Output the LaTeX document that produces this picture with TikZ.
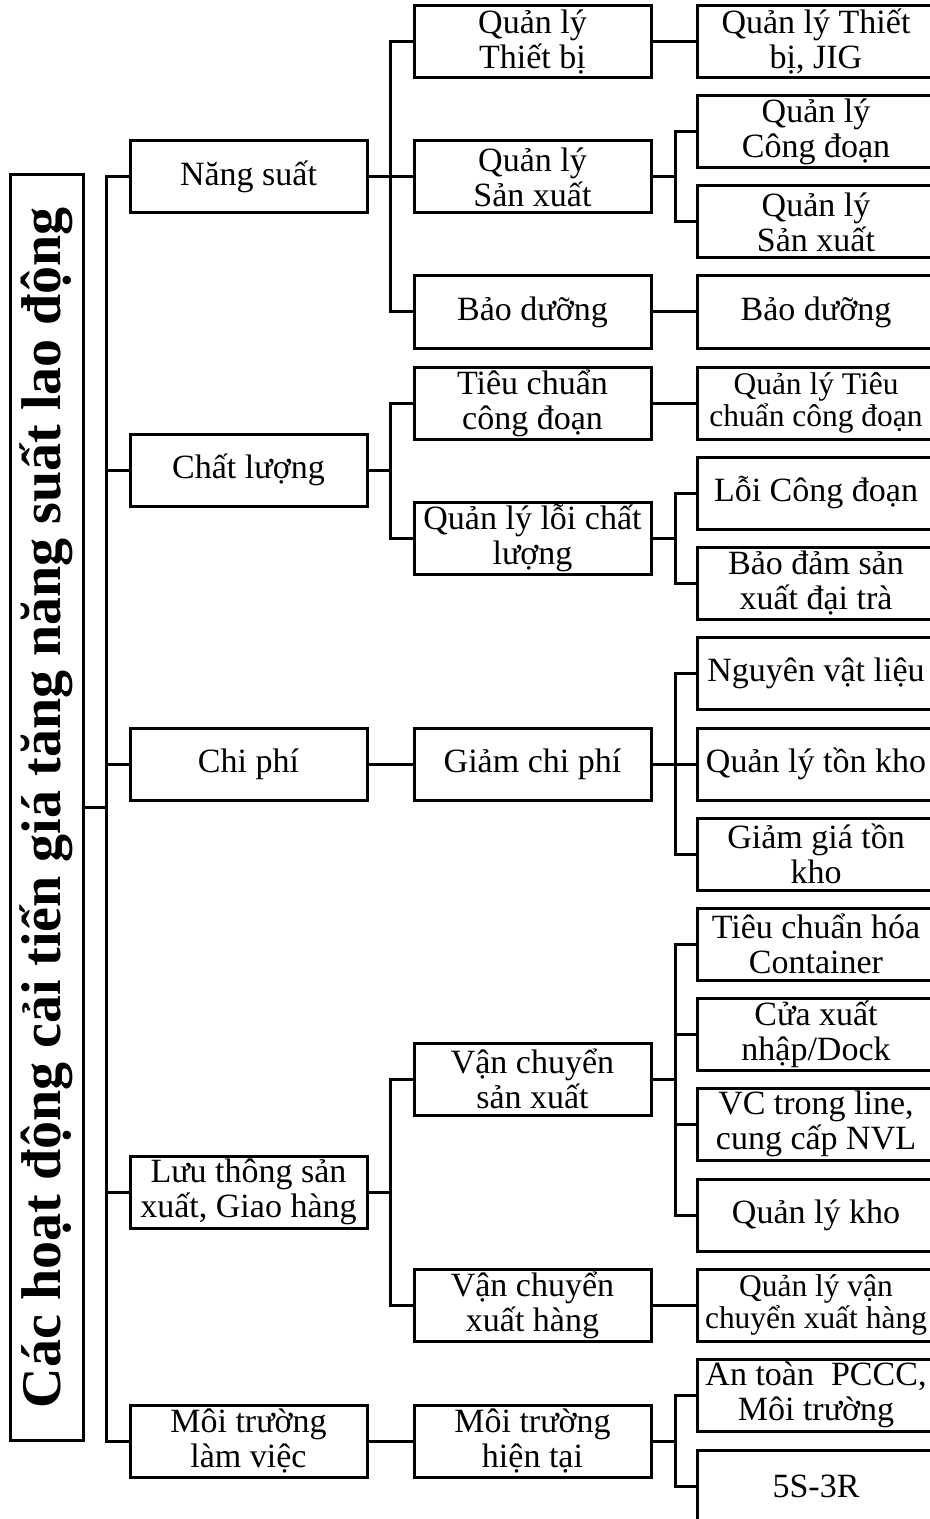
\documentclass[tikz,border=0pt]{standalone}
\usepackage{fontspec}
\setmainfont{Liberation Serif}
\begin{document}
\begin{tikzpicture}[x=0.75pt,y=-0.75pt,
  line width=2.25pt,
  box/.style={draw, line width=2.25pt, minimum width=177.75pt, minimum height=54pt,
    inner sep=0pt, align=center, font=\fontsize{25.5}{26.25}\selectfont},
  smallbox/.style={box, font=\fontsize{23.6}{24.5}\selectfont},
  titlebox/.style={draw, line width=2.25pt, rotate=90, minimum width=948.75pt,
    minimum height=54.75pt, inner sep=0pt, font=\bfseries\fontsize{42}{48}\selectfont},
  link/.style={line width=2.25pt}
]
\path[use as bounding box] (0,0) rectangle (930,1519);
\clip (0,0) rectangle (930,1519);

% root
\node[titlebox] (title) at (46.5,807.5) {Các hoạt động cải tiến giá tăng năng suất lao động};

% junction columns
\coordinate (trunk) at (106,807.5);
\coordinate (j1) at (390,0);
\coordinate (j2) at (675,0);

% level 1
\node[box] (ns) at (248.5,177)  {Năng suất};
\node[box] (cl) at (248.5,470)  {Chất lượng};
\node[box] (cp) at (248.5,764)  {Chi phí};
\node[box] (lt) at (248.5,1192) {Lưu thông sản\\xuất, Giao hàng};
\node[box] (mt) at (248.5,1441) {Môi trường\\làm việc};

% level 2
\node[box] (qltb) at (532.5,42)   {Quản lý\\Thiết bị};
\node[box] (qlsx) at (532.5,177)  {Quản lý\\Sản xuất};
\node[box] (bd)   at (532.5,312)  {Bảo dưỡng};
\node[box] (tccd) at (532.5,403)  {Tiêu chuẩn\\công đoạn};
\node[box] (qlcl) at (532.5,538)  {Quản lý lỗi chất\\lượng};
\node[box] (gcp)  at (532.5,764)  {Giảm chi phí};
\node[box] (vcsx) at (532.5,1079) {Vận chuyển\\sản xuất};
\node[box] (vcxh) at (532.5,1305) {Vận chuyển\\xuất hàng};
\node[box] (mtht) at (532.5,1441) {Môi trường\\hiện tại};

% level 3
\node[box]      (jig)   at (816,42)   {Quản lý Thiết\\bị, JIG};
\node[box]      (qlcd)  at (816,132)  {Quản lý\\Công đoạn};
\node[box]      (qlsx2) at (816,222)  {Quản lý\\Sản xuất};
\node[box]      (bd2)   at (816,312)  {Bảo dưỡng};
\node[smallbox] (qltc)  at (816,403)  {Quản lý Tiêu\\chuẩn công đoạn};
\node[box]      (lcd)   at (816,493)  {Lỗi Công đoạn};
\node[box]      (bdsx)  at (816,583)  {Bảo đảm sản\\xuất đại trà};
\node[box]      (nvl)   at (816,673)  {Nguyên vật liệu};
\node[box]      (qltk)  at (816,764)  {Quản lý tồn kho};
\node[box]      (ggtk)  at (816,854)  {Giảm giá tồn\\kho};
\node[box]      (tchc)  at (816,944)  {Tiêu chuẩn hóa\\Container};
\node[box]      (cxn)   at (816,1034) {Cửa xuất\\nhập/Dock};
\node[box]      (vctl)  at (816,1124) {VC trong line,\\cung cấp NVL};
\node[box]      (qlk)   at (816,1215) {Quản lý kho};
\node[smallbox] (qlvc)  at (816,1305) {Quản lý vận\\chuyển xuất hàng};
\node[box]      (atpc)  at (816,1395) {An toàn\ \ PCCC,\\Môi trường};
\node[box]      (s5)    at (816,1486) {5S-3R};

% connectors
\draw[link] (title.south) -- (trunk);
\foreach \c in {ns,cl,cp,lt,mt}
  \draw[link] (trunk) |- (\c.west);
\foreach \p/\c in {ns/qltb, ns/qlsx, ns/bd, cl/tccd, cl/qlcl, lt/vcsx, lt/vcxh}
  \draw[link] (\p.east) -- (\p.east -| j1) |- (\c.west);
\foreach \p/\c in {qlsx/qlcd, qlsx/qlsx2, qlcl/lcd, qlcl/bdsx, gcp/nvl, gcp/qltk, gcp/ggtk,
                   vcsx/tchc, vcsx/cxn, vcsx/vctl, vcsx/qlk, mtht/atpc, mtht/s5}
  \draw[link] (\p.east) -- (\p.east -| j2) |- (\c.west);
\foreach \p/\c in {cp/gcp, mt/mtht, qltb/jig, bd/bd2, tccd/qltc, vcxh/qlvc}
  \draw[link] (\p.east) -- (\c.west);
\end{tikzpicture}
\end{document}
